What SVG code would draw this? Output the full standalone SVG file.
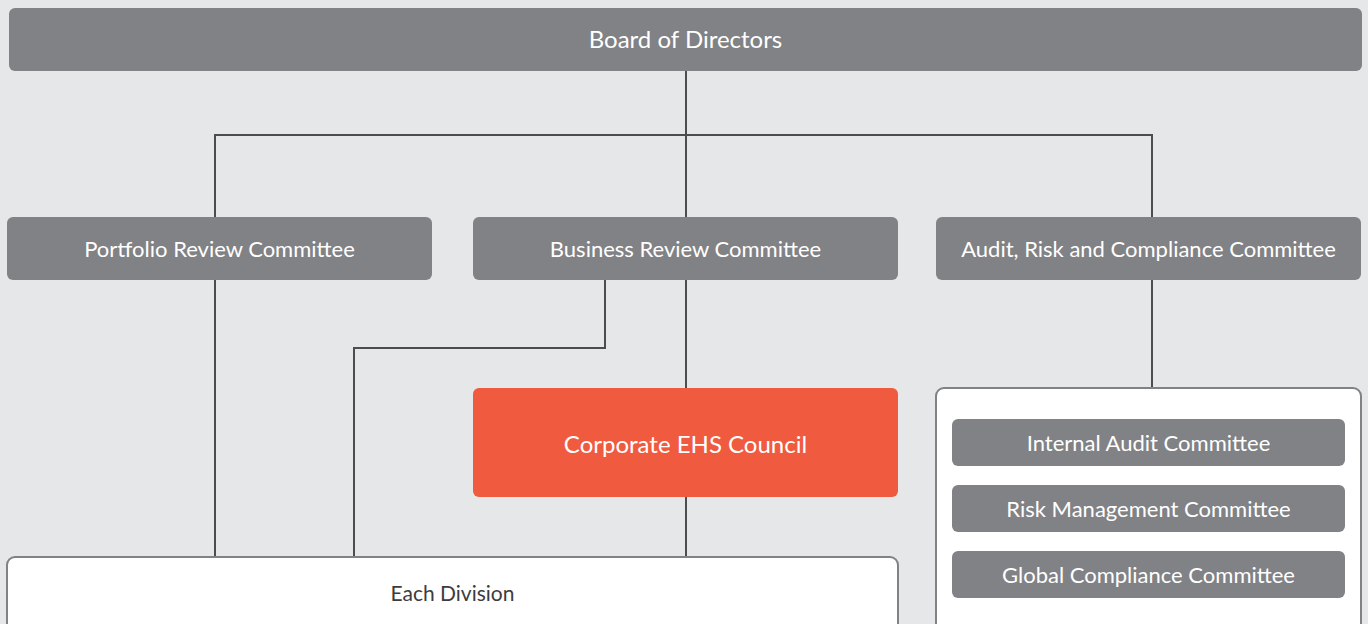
<svg xmlns="http://www.w3.org/2000/svg" width="1368" height="624" viewBox="0 0 1368 624">
<style>
.bg{fill:#e6e7e9}
.g{fill:#818285}
.o{fill:#f05a3f}
.w{fill:#ffffff;stroke:#808285;stroke-width:2}
.t{font-family:Lato,"Liberation Sans",sans-serif;font-size:22px;fill:#ffffff;text-anchor:middle;dominant-baseline:central}
.td{font-family:Lato,"Liberation Sans",sans-serif;font-size:21px;fill:#3c3c3e;text-anchor:middle;dominant-baseline:central}
.c{fill:none;stroke:#4d4d4f;stroke-width:2}
</style>
<rect class="bg" x="0" y="0" width="1368" height="624"/>
<g id="connectors">
<path class="c" d="M686 71V217"/>
<path class="c" d="M215 217V135H1152V217"/>
<path class="c" d="M215 280V557"/>
<path class="c" d="M605 280V348H354V557"/>
<path class="c" d="M686 280V388"/>
<path class="c" d="M686 497V557"/>
<path class="c" d="M1152 280V388"/>
</g>
<g id="board"><rect class="g" x="9" y="8" width="1353" height="63" rx="6"/><text class="t" x="685.500" y="38" style="font-size:24px">Board of Directors</text></g>
<g id="portfolio"><rect class="g" x="7" y="217" width="425" height="63" rx="6"/><text class="t" x="219.500" y="248">Portfolio Review Committee</text></g>
<g id="business"><rect class="g" x="473" y="217" width="425" height="63" rx="6"/><text class="t" x="685.500" y="248">Business Review Committee</text></g>
<g id="audit"><rect class="g" x="936" y="217" width="425" height="63" rx="6"/><text class="t" x="1148.500" y="248">Audit, Risk and Compliance Committee</text></g>
<g id="ehs"><rect class="o" x="473" y="388" width="425" height="109" rx="6"/><text class="t" x="685.500" y="443" style="font-size:24px">Corporate EHS Council</text></g>
<g id="division"><rect class="w" x="7" y="557" width="891" height="80" rx="8"/><text class="td" x="452.500" y="592">Each Division</text></g>
<g id="arc-group"><rect class="w" x="936" y="388" width="425" height="250" rx="8"/></g>
<g id="internal-audit"><rect class="g" x="952" y="419" width="393" height="47" rx="6"/><text class="t" x="1148.500" y="442">Internal Audit Committee</text></g>
<g id="risk"><rect class="g" x="952" y="485" width="393" height="47" rx="6"/><text class="t" x="1148.500" y="508">Risk Management Committee</text></g>
<g id="global"><rect class="g" x="952" y="551" width="393" height="47" rx="6"/><text class="t" x="1148.500" y="574">Global Compliance Committee</text></g>
</svg>
